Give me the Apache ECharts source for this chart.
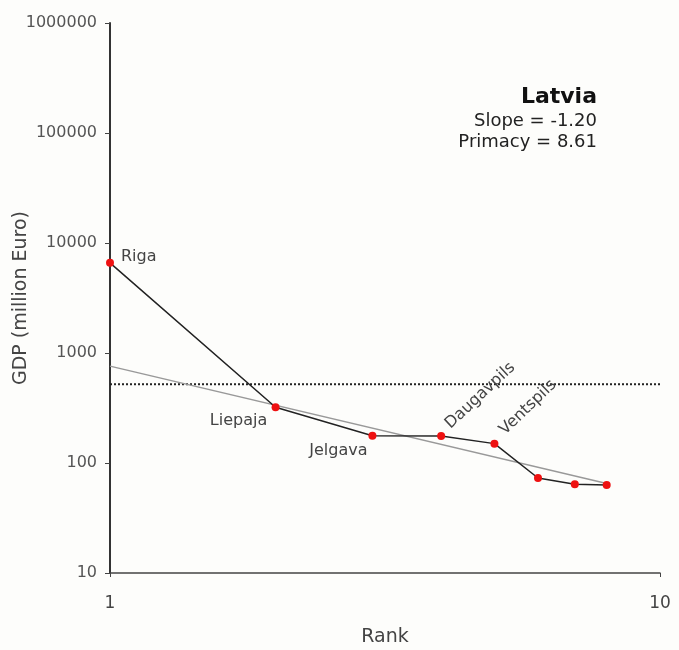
<!DOCTYPE html>
<html><head><meta charset="utf-8">
<script src="https://cdn.jsdelivr.net/npm/echarts@6/dist/echarts.min.js"></script>
<style>html,body{margin:0;padding:0;background:#fdfdfb;}#c{width:679px;height:650px;}</style>
</head><body><div id="c"></div>
<script>
const ranks = [1, 2, 3, 4, 5, 6, 7, 8];
const gdp = [6600, 321, 177, 176, 150, 73, 64, 63];
const cityNames = ['Riga', 'Liepaja', 'Jelgava', 'Daugavpils', 'Ventspils', '', '', ''];
const fitRanks = [1, 8];
const fitValues = [760, 65];
const thresholdRanks = [1, 10];
const thresholdValues = [520, 520];
const countryName = 'Latvia';
const slopeText = 'Slope = -1.20';
const primacyText = 'Primacy = 8.61';

const WFONT = '"DejaVu Sans", sans-serif';
const labelCfg = [
  {position: 'right', offset: [2, -6]},
  {position: 'bottom', offset: [-37, -3]},
  {position: 'bottom', offset: [-34, -2]},
  {position: 'right', rotate: 43, offset: [5, -9], align: 'left'},
  {position: 'right', rotate: 44, offset: [7, -9], align: 'left'},
  {}, {}, {}
];
const pts = ranks.map((r, i) => ({
  value: [r, gdp[i]],
  label: Object.assign({show: !!cityNames[i], formatter: cityNames[i], color: '#444', fontSize: 16, fontFamily: WFONT}, labelCfg[i])
}));

const chart = echarts.init(document.getElementById('c'));
chart.setOption({
  backgroundColor: '#fdfdfb',
  animation: false,
  textStyle: {fontFamily: WFONT},
  grid: {left: 110, right: 19, top: 23, bottom: 77, containLabel: false, outerBoundsMode: 'none'},
  xAxis: {
    type: 'log', logBase: 10, min: 1, max: 10,
    name: 'Rank', nameLocation: 'middle', nameGap: 55, nameMoveOverlap: false,
    nameTextStyle: {color: '#444', fontSize: 19, fontFamily: WFONT},
    axisLine: {lineStyle: {color: '#444', width: 1.5}},
    axisTick: {show: true, length: 4, lineStyle: {color: '#444'}},
    axisLabel: {color: '#444', fontSize: 17, margin: 22, fontFamily: WFONT},
    splitLine: {show: false}, minorTick: {show: false}
  },
  yAxis: {
    type: 'log', logBase: 10, min: 10, max: 1000000,
    name: 'GDP (million Euro)', nameLocation: 'middle', nameGap: 79, nameMoveOverlap: false,
    nameTextStyle: {color: '#444', fontSize: 19, fontFamily: WFONT},
    axisLine: {show: true, lineStyle: {color: '#333', width: 2}},
    axisTick: {show: true, length: 5, lineStyle: {color: '#444'}},
    axisLabel: {color: '#555', fontSize: 16, margin: 13, fontFamily: WFONT, formatter: v => String(Math.round(v))},
    splitLine: {show: false}
  },
  graphic: [
    {type: 'text', x: 597, y: 97, style: {text: countryName, font: 'bold 22px ' + WFONT, fill: '#111', textAlign: 'right', textVerticalAlign: 'middle'}},
    {type: 'text', x: 597, y: 121, style: {text: slopeText, font: '18px ' + WFONT, fill: '#222', textAlign: 'right', textVerticalAlign: 'middle'}},
    {type: 'text', x: 597, y: 142, style: {text: primacyText, font: '18px ' + WFONT, fill: '#222', textAlign: 'right', textVerticalAlign: 'middle'}}
  ],
  series: [
    {
      type: 'line', data: thresholdRanks.map((r, i) => [r, thresholdValues[i]]),
      symbol: 'none', lineStyle: {color: '#222', width: 2, type: [2, 2]}, z: 1
    },
    {
      type: 'line', data: fitRanks.map((r, i) => [r, fitValues[i]]),
      symbol: 'none', lineStyle: {color: '#999', width: 1.5}, z: 2
    },
    {
      type: 'line', data: pts, symbol: 'circle', symbolSize: 8,
      itemStyle: {color: '#ee1111'},
      lineStyle: {color: '#222', width: 1.5}, z: 3
    }
  ]
});
</script></body></html>
